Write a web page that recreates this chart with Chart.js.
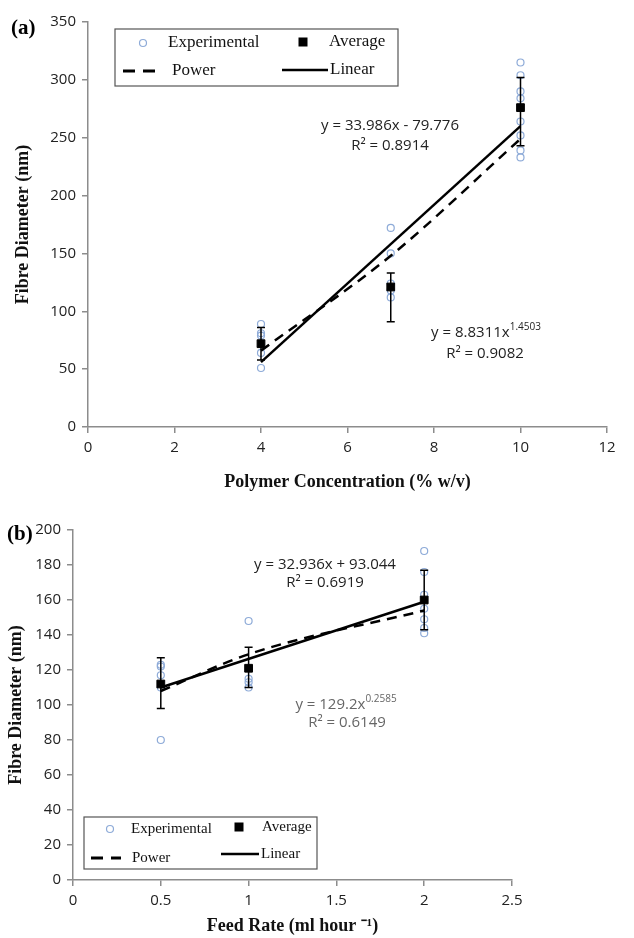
<!DOCTYPE html>
<html>
<head>
<meta charset="utf-8">
<script src="https://cdn.jsdelivr.net/npm/chart.js@4.4.1/dist/chart.umd.min.js"></script>
<style>
    body { margin: 0; background: #fff; }
    canvas { position: absolute; left: 0; }
    #chartA { top: 0; }
    #chartB { top: 495px; }
</style>
</head>
<body>
<canvas id="chartA" width="634" height="495"></canvas>
<canvas id="chartB" width="634" height="443"></canvas>
<script>
// (a) polymer concentration
const concExpX = [4, 4, 4, 4, 4, 7, 7, 7, 7, 7, 10, 10, 10, 10, 10, 10, 10, 10];
const concExpY = [89, 81, 79, 64, 51, 172, 150, 124, 118, 112, 315, 304, 290, 284, 264, 252, 239, 233];
const concAvgX = [4, 7, 10];
const concAvgY = [72, 121, 276];
const concErrHigh = [86, 133, 302];
const concErrLow = [58, 91, 243];
const concLinX = [4, 10];
const concLinY = [56, 260];
const concPowX = [4, 7, 10];
const concPowY = [66, 148, 249];
const concTicksX = [0, 2, 4, 6, 8, 10, 12];
const concTicksY = [0, 50, 100, 150, 200, 250, 300, 350];

// (b) feed rate
const feedExpX = [0.5, 0.5, 0.5, 0.5, 0.5, 1, 1, 1, 1, 2, 2, 2, 2, 2, 2, 2];
const feedExpY = [123, 122, 117, 110, 80, 148, 115, 113, 110, 188, 176, 163, 155, 149, 144, 141];
const feedAvgX = [0.5, 1, 2];
const feedAvgY = [112, 121, 160];
const feedErrHigh = [127, 133, 177];
const feedErrLow = [98, 110, 143];
const feedLinX = [0.5, 2];
const feedLinY = [110, 159];
const feedPowX = [0.5, 1, 2];
const feedPowY = [108, 129, 154];
const feedTicksX = [0, 0.5, 1, 1.5, 2, 2.5];
const feedTicksY = [0, 20, 40, 60, 80, 100, 120, 140, 160, 180, 200];

const axisGrey = '#8c8c8c';
const expBlue = '#8eabd8';
const tickFont = { family: 'Open Sans', size: 15 };
const serif = 'Liberation Serif';

function pts(xs, ys) {
    return xs.map((x, i) => ({ x: x, y: ys[i] }));
}

// error bars drawn through the chart's scales
const errorBars = {
    id: 'errorBars',
    afterDatasetsDraw(chart, args, opts) {
        const ctx = chart.ctx;
        const xs = chart.scales.x, ys = chart.scales.y;
        ctx.save();
        ctx.strokeStyle = '#000';
        ctx.lineWidth = 1.5;
        opts.x.forEach((x, i) => {
            const px = xs.getPixelForValue(x);
            const top = ys.getPixelForValue(opts.high[i]);
            const bot = ys.getPixelForValue(opts.low[i]);
            ctx.beginPath();
            ctx.moveTo(px, top); ctx.lineTo(px, bot);
            ctx.moveTo(px - 4, top); ctx.lineTo(px + 4, top);
            ctx.moveTo(px - 4, bot); ctx.lineTo(px + 4, bot);
            ctx.stroke();
        });
        ctx.restore();
    }
};

// boxed legend like the original figure
const boxLegend = {
    id: 'boxLegend',
    afterDraw(chart, args, o) {
        const ctx = chart.ctx;
        ctx.save();
        ctx.fillStyle = '#fff';
        ctx.fillRect(o.box[0], o.box[1], o.box[2], o.box[3]);
        ctx.strokeStyle = '#555';
        ctx.lineWidth = 1.2;
        ctx.strokeRect(o.box[0], o.box[1], o.box[2], o.box[3]);

        ctx.font = o.size + 'px ' + serif;
        ctx.fillStyle = '#111';
        ctx.textBaseline = 'middle';
        // experimental
        ctx.beginPath();
        ctx.arc(o.exp[0], o.exp[1], 3.5, 0, Math.PI * 2);
        ctx.strokeStyle = expBlue;
        ctx.lineWidth = 1.2;
        ctx.stroke();
        ctx.fillText('Experimental', o.exp[2], o.exp[1]);
        // average
        ctx.fillStyle = '#000';
        ctx.fillRect(o.avg[0] - 4.5, o.avg[1] - 4.5, 9, 9);
        ctx.fillStyle = '#111';
        ctx.fillText('Average', o.avg[2], o.avg[1]);
        // power
        ctx.strokeStyle = '#000';
        ctx.lineWidth = 3;
        ctx.setLineDash([12, 8]);
        ctx.beginPath();
        ctx.moveTo(o.pow[0], o.pow[1]); ctx.lineTo(o.pow[2], o.pow[1]);
        ctx.stroke();
        ctx.setLineDash([]);
        ctx.fillText('Power', o.pow[3], o.pow[1]);
        // linear
        ctx.lineWidth = 2.5;
        ctx.beginPath();
        ctx.moveTo(o.lin[0], o.lin[1]); ctx.lineTo(o.lin[2], o.lin[1]);
        ctx.stroke();
        ctx.fillText('Linear', o.lin[3], o.lin[1]);
        ctx.restore();
    }
};

// equation labels and panel letter
const notes = {
    id: 'notes',
    afterDraw(chart, args, o) {
        const ctx = chart.ctx;
        ctx.save();
        ctx.textBaseline = 'middle';
        ctx.font = 'bold 21px ' + serif;
        ctx.fillStyle = '#000';
        ctx.fillText(o.panel[0], o.panel[1], o.panel[2]);
        o.eqs.forEach(e => {
            ctx.fillStyle = e.color;
            ctx.font = '15px Open Sans';
            ctx.textAlign = 'center';
            if (e.sup) {
                const w1 = ctx.measureText(e.text).width;
                ctx.font = '10px Open Sans';
                const w2 = ctx.measureText(e.sup).width;
                const left = e.x - (w1 + w2) / 2;
                ctx.textAlign = 'left';
                ctx.font = '15px Open Sans';
                ctx.fillText(e.text, left, e.y);
                ctx.font = '10px Open Sans';
                ctx.fillText(e.sup, left + w1, e.y - 6);
            } else {
                ctx.fillText(e.text, e.x, e.y);
            }
        });
        ctx.restore();
    }
};

function makeOptions(c) {
    return {
        responsive: false,
        animation: false,
        devicePixelRatio: 1,
        layout: { padding: c.padding },
        plugins: {
            legend: { display: false },
            tooltip: { enabled: false },
            errorBars: c.err,
            boxLegend: c.legend,
            notes: c.notes
        },
        scales: {
            x: {
                type: 'linear',
                min: c.xTicks[0],
                max: c.xTicks[c.xTicks.length - 1],
                afterBuildTicks: s => { s.ticks = c.xTicks.map(v => ({ value: v })); },
                afterFit: s => { s.height = c.xHeight; },
                border: { color: axisGrey, width: 1.5 },
                grid: { drawOnChartArea: false, color: axisGrey, tickLength: 6, lineWidth: 1.5 },
                ticks: { font: tickFont, color: '#222', padding: 6, maxRotation: 0, callback: v => String(v) },
                title: {
                    display: true,
                    text: c.xTitle,
                    font: { family: serif, size: 18, weight: 'bold' },
                    color: '#111',
                    padding: c.xTitlePad
                }
            },
            y: {
                type: 'linear',
                min: c.yTicks[0],
                max: c.yTicks[c.yTicks.length - 1],
                afterBuildTicks: s => { s.ticks = c.yTicks.map(v => ({ value: v })); },
                afterFit: s => { s.width = c.yWidth; },
                border: { color: axisGrey, width: 1.5 },
                grid: { drawOnChartArea: false, color: axisGrey, tickLength: 6, lineWidth: 1.5 },
                ticks: { font: tickFont, color: '#222', padding: 6, callback: v => String(v) },
                title: {
                    display: true,
                    text: 'Fibre Diameter (nm)',
                    font: { family: serif, size: 18, weight: 'bold' },
                    color: '#111',
                    padding: c.yTitlePad
                }
            }
        }
    };
}

function makeDatasets(expX, expY, avgX, avgY, linX, linY, powX, powY) {
    return [
        {
            label: 'Experimental',
            data: pts(expX, expY),
            pointStyle: 'circle',
            pointRadius: 3.5,
            borderColor: expBlue,
            backgroundColor: 'rgba(255,255,255,0)',
            borderWidth: 1.2,
            showLine: false,
            order: 4
        },
        {
            label: 'Power',
            data: pts(powX, powY),
            showLine: true,
            pointRadius: 0,
            borderColor: '#000',
            borderWidth: 2.5,
            borderDash: [10, 7],
            cubicInterpolationMode: 'monotone',
            order: 3
        },
        {
            label: 'Linear',
            data: pts(linX, linY),
            showLine: true,
            pointRadius: 0,
            borderColor: '#000',
            borderWidth: 2.5,
            order: 2
        },
        {
            label: 'Average',
            data: pts(avgX, avgY),
            pointStyle: 'rect',
            pointRadius: 5.5,
            backgroundColor: '#000',
            borderColor: '#000',
            showLine: false,
            order: 1
        }
    ];
}

new Chart(document.getElementById('chartA'), {
    type: 'scatter',
    data: { datasets: makeDatasets(concExpX, concExpY, concAvgX, concAvgY, concLinX, concLinY, concPowX, concPowY) },
    options: makeOptions({
        padding: { left: 0, right: 27, top: 22, bottom: 0 },
        xTicks: concTicksX,
        yTicks: concTicksY,
        xHeight: 68,
        yWidth: 88,
        xTitle: 'Polymer Concentration (% w/v)',
        xTitlePad: { top: 8, bottom: 2 },
        yTitlePad: { top: 13, bottom: 0 },
        err: { x: concAvgX, high: concErrHigh, low: concErrLow },
        legend: {
            size: 17,
            box: [115, 29, 283, 57],
            exp: [143, 43, 168],
            avg: [303, 42, 329],
            pow: [123, 71, 160, 172],
            lin: [282, 70, 328, 330]
        },
        notes: {
            panel: ['(a)', 11, 29],
            eqs: [
                { text: 'y = 33.986x - 79.776', x: 390, y: 126, color: '#222' },
                { text: 'R² = 0.8914', x: 390, y: 146, color: '#222' },
                { text: 'y = 8.8311x', sup: '1.4503', x: 486, y: 333, color: '#222' },
                { text: 'R² = 0.9082', x: 485, y: 354, color: '#222' }
            ]
        }
    }),
    plugins: [errorBars, boxLegend, notes]
});

new Chart(document.getElementById('chartB'), {
    type: 'scatter',
    data: { datasets: makeDatasets(feedExpX, feedExpY, feedAvgX, feedAvgY, feedLinX, feedLinY, feedPowX, feedPowY) },
    options: makeOptions({
        padding: { left: 0, right: 122, top: 35, bottom: 0 },
        xTicks: feedTicksX,
        yTicks: feedTicksY,
        xHeight: 58,
        yWidth: 73,
        xTitle: 'Feed Rate (ml hour ⁻¹)',
        xTitlePad: { top: 6, bottom: 1 },
        yTitlePad: { top: 6, bottom: 0 },
        err: { x: feedAvgX, high: feedErrHigh, low: feedErrLow },
        legend: {
            size: 15,
            box: [84, 322, 233, 52],
            exp: [110, 334, 131],
            avg: [239, 332, 262],
            pow: [91, 363, 121, 132],
            lin: [221, 359, 259, 261]
        },
        notes: {
            panel: ['(b)', 7, 40],
            eqs: [
                { text: 'y = 32.936x + 93.044', x: 325, y: 70, color: '#222' },
                { text: 'R² = 0.6919', x: 325, y: 88, color: '#222' },
                { text: 'y = 129.2x', sup: '0.2585', x: 346, y: 210, color: '#666' },
                { text: 'R² = 0.6149', x: 347, y: 228, color: '#666' }
            ]
        }
    }),
    plugins: [errorBars, boxLegend, notes]
});
</script>
</body>
</html>
